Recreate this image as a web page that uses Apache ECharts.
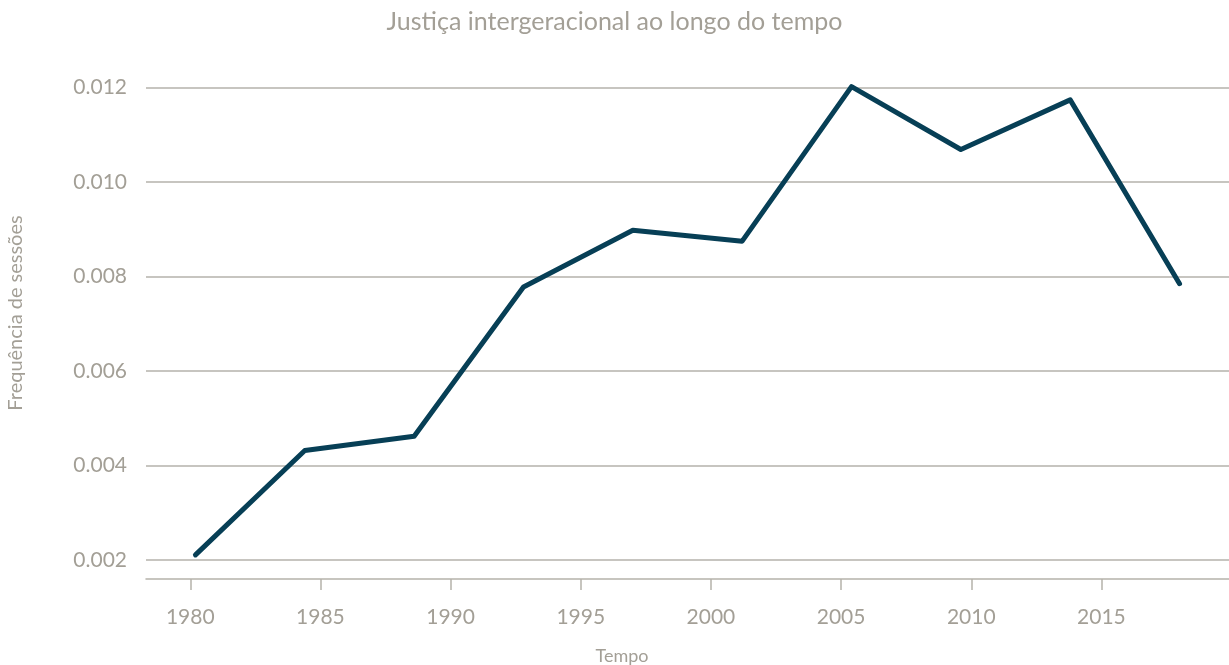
<!DOCTYPE html>
<html>
<head>
<meta charset="utf-8">
<title>Justiça intergeracional ao longo do tempo</title>
<script src="https://cdn.jsdelivr.net/npm/echarts@6/dist/echarts.min.js"></script>
<style>
  html, body { margin: 0; padding: 0; background: #fff; }
  #chart { width: 1229px; height: 665px; }
</style>
</head>
<body>
<div id="chart"></div>
<script>
// anos (centro de cada intervalo) e frequência
const years = [1980.2, 1984.4, 1988.6, 1992.8, 1997.0, 2001.2, 2005.4, 2009.6, 2013.8, 2018.0]
const freq = [0.00211, 0.00432, 0.00462, 0.00778, 0.00898, 0.00875, 0.01202, 0.01069, 0.01174, 0.00785]
const xTicks = [1980, 1985, 1990, 1995, 2000, 2005, 2010, 2015]
const yTicks = [0.002, 0.004, 0.006, 0.008, 0.010, 0.012]

const grey = '#a39f96'
const gridGrey = '#b5b2ab'
const font = 'Lato, "Open Sans", sans-serif'

const myChart = echarts.init(document.getElementById('chart'))

const option = {
  animation: false,
  title: {
    text: 'Justiça intergeracional ao longo do tempo',
    left: 'center',
    top: 4,
    textStyle: { color: grey, fontSize: 25, fontWeight: 'normal', fontFamily: font }
  },
  grid: { left: 146, right: 0, top: 63, bottom: 86, outerBoundsMode: 'none', containLabel: false },
  xAxis: {
    type: 'value',
    min: 1978.3,
    max: 2019.9,
    name: 'Tempo',
    nameLocation: 'middle',
    nameGap: 68,
    nameTextStyle: { color: grey, fontSize: 18, fontFamily: font, padding: [0, 131, 0, 0] },
    axisLine: { show: true, lineStyle: { color: gridGrey, width: 1.5 } },
    axisTick: { show: true, length: 11, customValues: xTicks, lineStyle: { color: gridGrey, width: 1.5 } },
    axisLabel: {
      color: grey, fontSize: 21, fontFamily: font, margin: 28,
      customValues: xTicks,
      formatter: v => String(v)
    },
    splitLine: { show: false }
  },
  yAxis: {
    type: 'value',
    min: 0.0016,
    max: 0.01252,
    name: 'Frequência de sessões',
    nameLocation: 'middle',
    nameRotate: 90,
    nameGap: 120,
    nameTextStyle: { color: grey, fontSize: 20, fontFamily: font, padding: [0, 0, 0, 16] },
    axisLine: { show: false },
    axisTick: { show: false, customValues: yTicks },
    axisLabel: {
      color: grey, fontSize: 21, fontFamily: font, margin: 19,
      customValues: yTicks,
      formatter: v => v.toFixed(3)
    },
    splitLine: { show: true, lineStyle: { color: gridGrey, width: 1.5 } }
  },
  series: [
    {
      type: 'line',
      data: years.map((y, i) => [y, freq[i]]),
      showSymbol: false,
      lineStyle: { color: '#073f56', width: 5, cap: 'round', join: 'round' }
    }
  ]
}

myChart.setOption(option)
</script>
</body>
</html>
